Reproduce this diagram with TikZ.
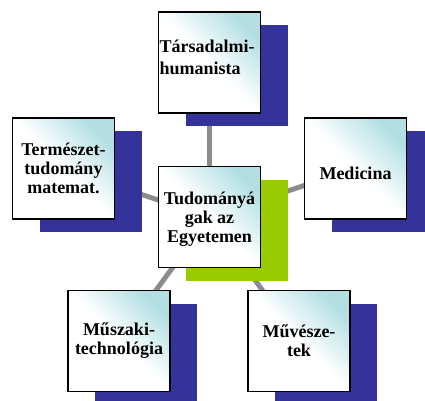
\documentclass[tikz,border=0pt]{standalone}
\usepackage{fontspec}
\setmainfont{Liberation Serif}
\usetikzlibrary{shadows}
\definecolor{boxcyan}{HTML}{B3DFE3}
\definecolor{shblue}{HTML}{333399}
\definecolor{shgreen}{HTML}{99CC00}
\definecolor{conngray}{HTML}{8C8C8C}
\pgfdeclarelayer{bg}
\pgfsetlayers{bg,main}
\begin{document}
\begin{tikzpicture}[x=1pt,y=-1pt,
  lbl/.style={font=\fontsize{18}{19}\selectfont\bfseries, align=center, inner sep=0pt},
  box/.style={lbl, draw=black, line width=1.5pt, minimum width=102pt, minimum height=101pt,
    inner sep=1pt, top color=boxcyan, bottom color=white, middle color=white, shading angle=-45},
  blueshadow/.style={general shadow={fill=shblue, shadow xshift=27pt, shadow yshift=-13pt}},
  greenshadow/.style={general shadow={fill=shgreen, shadow xshift=27pt, shadow yshift=-13pt}},
  conn/.style={draw=conngray, line width=5pt}]
\useasboundingbox (0,0) rectangle (425,400);
\node[box, blueshadow] (soc) at (209.5,62.5) {};
\node[lbl, anchor=west, align=left] (socT) at (159.5,57) {Társadalmi-\\[3pt]humanista};
\node[box, blueshadow] (nat) at (63.5,168.5) {Természet-\\tudomány\\matemat.};
\node[box, blueshadow] (med) at (355.5,168.5) {};
\node[lbl] (medT) at (355.5,173.5) {Medicina};
\node[box, greenshadow] (ctr) at (209.5,217) {};
\node[lbl] (ctrT) at (209.5,219) {Tudományá\\gak az\\Egyetemen};
\node[box, blueshadow] (tec) at (119,341) {Műszaki-\\technológia};
\node[box, blueshadow] (art) at (299,341) {Művésze-\\tek};
\begin{pgfonlayer}{bg}
\draw[conn] (ctr.center) -- (soc.center);
\draw[conn] (ctr.center) -- (nat.center);
\draw[conn] (ctr.center) -- (med.center);
\draw[conn] (ctr.center) -- (tec.center);
\draw[conn] (ctr.center) -- (art.center);
\end{pgfonlayer}
\end{tikzpicture}
\end{document}
